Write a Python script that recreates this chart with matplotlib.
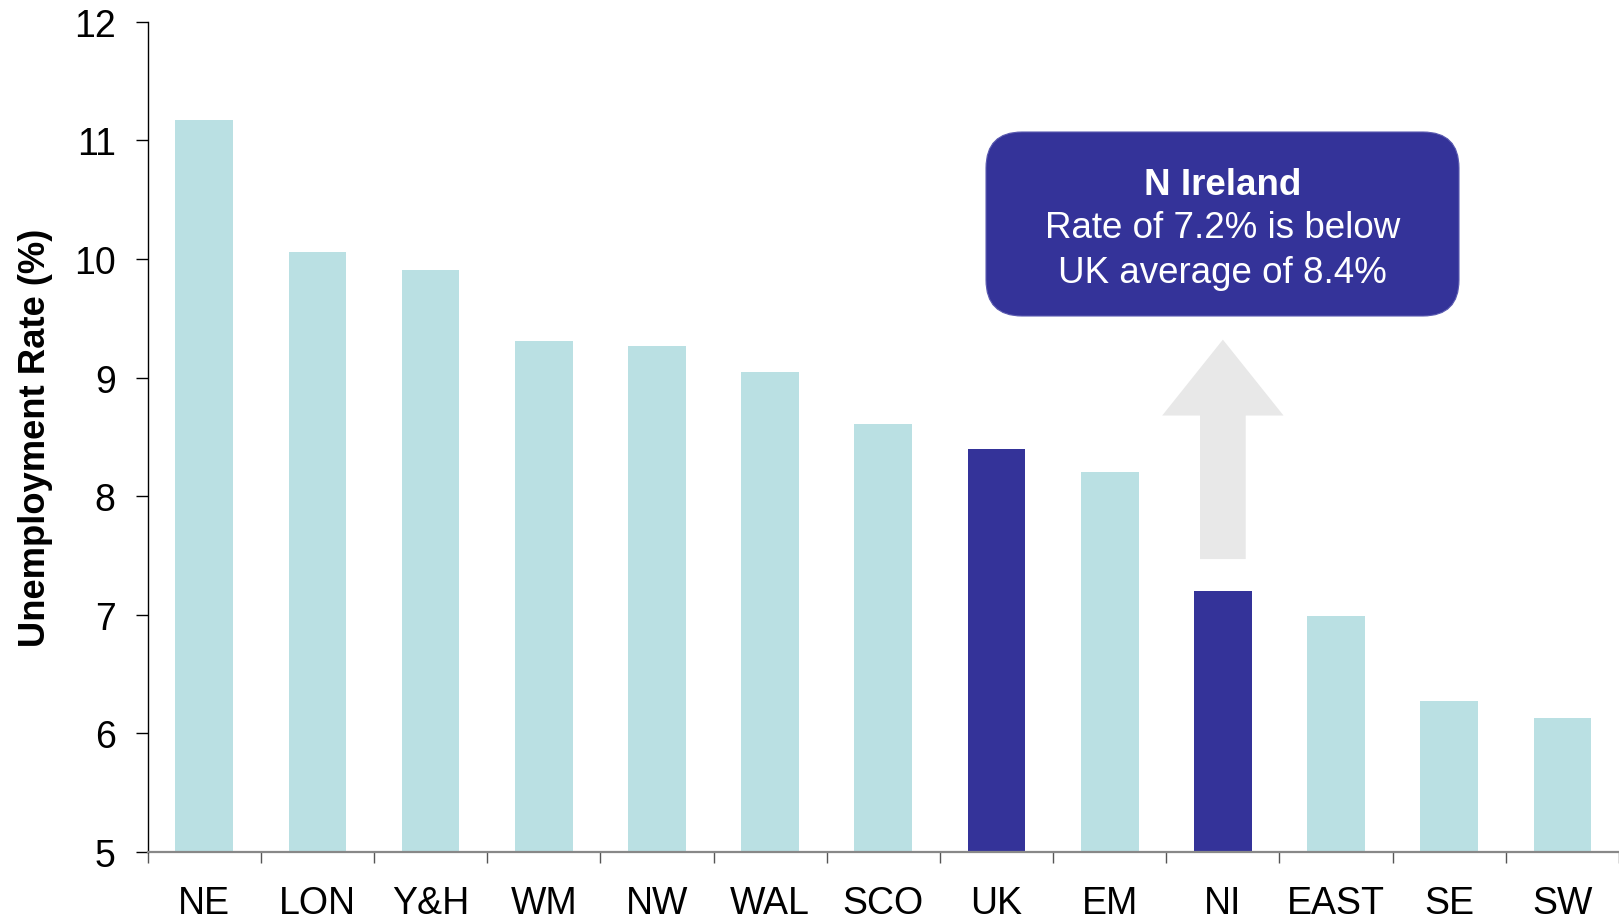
import matplotlib
matplotlib.use("Agg")
import matplotlib.pyplot as plt
from matplotlib.patches import FancyArrow, FancyBboxPatch
import numpy as np

plt.rcParams['font.family'] = ['Liberation Sans', 'DejaVu Sans']

regions = ["NE", "LON", "Y&H", "WM", "NW", "WAL", "SCO", "UK", "EM", "NI", "EAST", "SE", "SW"]
rates = [11.17, 10.06, 9.91, 9.31, 9.27, 9.05, 8.61, 8.40, 8.20, 7.20, 6.99, 6.27, 6.13]
highlight = ["UK", "NI"]
yticks = [5, 6, 7, 8, 9, 10, 11, 12]

light = "#BAE0E3"
dark = "#343399"

fig = plt.figure(figsize=(16.19, 9.2), dpi=100)
ax = fig.add_axes([0.0912, 0.0728, 0.9088, 0.9025])

x = np.arange(len(regions))
colors = [dark if r in highlight else light for r in regions]
ax.bar(x, np.array(rates) - 5, bottom=5, width=0.51, color=colors, zorder=2)

ax.set_ylim(5, 12)
ax.set_xlim(-0.5, 12.41)
ax.set_yticks(yticks)
ax.set_yticklabels([str(v) for v in yticks], fontsize=27)
ax.set_xticks(x)
ax.set_xticklabels(regions, fontsize=27)
ax.set_xticks(np.arange(-0.5, len(regions), 1.0), minor=True)
ax.tick_params(axis='x', which='major', length=0, pad=24)
ax.tick_params(axis='x', which='minor', length=8, width=1.0, color="#555555", direction='out')
ax.tick_params(axis='y', which='major', length=9, width=1.0, color="black", pad=14)

for s in ["top", "right"]:
    ax.spines[s].set_visible(False)
ax.spines["left"].set_color("black")
ax.spines["left"].set_linewidth(1.0)
ax.spines["bottom"].set_color("#888888")
ax.spines["bottom"].set_linewidth(1.6)

ax.set_ylabel("Unemployment Rate (%)", fontsize=26.2, fontweight='bold', labelpad=15)

# Arrow above NI bar
ni = regions.index("NI")
arrow = FancyArrow(ni, 7.47, 0, 9.32 - 7.47, width=0.404, head_width=1.072,
                   head_length=0.64, length_includes_head=True,
                   color="#E8E8E8", ec="none", zorder=3)
ax.add_patch(arrow)

# Callout box
box = FancyBboxPatch((9.86, 6.03), 4.73, 1.84,
                     boxstyle="round,pad=0,rounding_size=0.36",
                     transform=fig.dpi_scale_trans, fc=dark, ec="#5a5ab0",
                     lw=0.8, zorder=5)
fig.patches.append(box)
cx = 0.7551
fig.text(cx, 0.788, "N Ireland", ha='center', va='baseline', color='white',
         fontsize=26.5, fontweight='bold', zorder=6)
fig.text(cx, 0.741, "Rate of 7.2% is below", ha='center', va='baseline',
         color='white', fontsize=26.5, zorder=6)
fig.text(cx, 0.692, "UK average of 8.4%", ha='center', va='baseline',
         color='white', fontsize=26.5, zorder=6)

fig.savefig("out.png", dpi=100)
